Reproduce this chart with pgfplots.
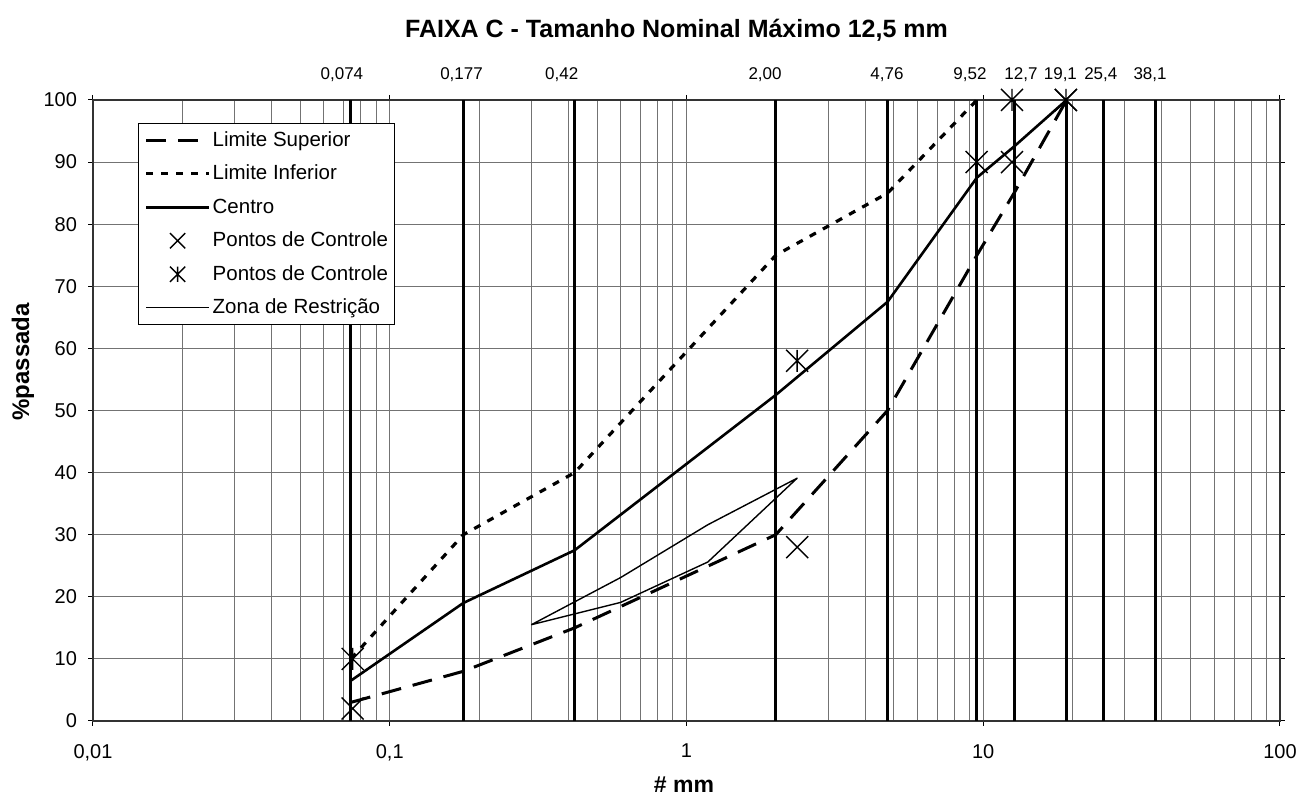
\documentclass[border=0pt]{standalone}
\usepackage{pgfplots}
\pgfplotsset{compat=1.18}
\usepackage{fontspec}
\setmainfont{Liberation Sans}
\pgfdeclareplotmark{xv}{%
 \pgfpathmoveto{\pgfqpoint{-\pgfplotmarksize}{-\pgfplotmarksize}}%
 \pgfpathlineto{\pgfqpoint{\pgfplotmarksize}{\pgfplotmarksize}}%
 \pgfpathmoveto{\pgfqpoint{-\pgfplotmarksize}{\pgfplotmarksize}}%
 \pgfpathlineto{\pgfqpoint{\pgfplotmarksize}{-\pgfplotmarksize}}%
 \pgfpathmoveto{\pgfqpoint{0pt}{-\pgfplotmarksize}}%
 \pgfpathlineto{\pgfqpoint{0pt}{\pgfplotmarksize}}%
 \pgfusepathqstroke}
\pgfdeclareplotmark{xx}{%
 \pgfpathmoveto{\pgfqpoint{-\pgfplotmarksize}{-\pgfplotmarksize}}%
 \pgfpathlineto{\pgfqpoint{\pgfplotmarksize}{\pgfplotmarksize}}%
 \pgfpathmoveto{\pgfqpoint{-\pgfplotmarksize}{\pgfplotmarksize}}%
 \pgfpathlineto{\pgfqpoint{\pgfplotmarksize}{-\pgfplotmarksize}}%
 \pgfusepathqstroke}

\begin{document}
\begin{tikzpicture}
\path[use as bounding box] (-46.5pt,-40pt) rectangle (604.5pt,360.5pt);
\begin{axis}[
  at={(0pt,0pt)}, anchor=south west,
  scale only axis, width=593.5pt, height=310.5pt,
  xmode=log, xmin=0.01, xmax=100, ymin=0, ymax=100,
  xtick={0.01,0.1,1,10,100}, xticklabels={{0,01},{0,1},1,10,100},
  minor xtick={0.02,0.03,0.04,0.05,0.06,0.07,0.08,0.09,0.2,0.3,0.4,0.5,0.6,0.7,0.8,0.9,2,3,4,5,6,7,8,9,20,30,40,50,60,70,80,90},
  ytick={0,10,...,100},
  xmajorgrids, xminorgrids, ymajorgrids,
  major grid style={black!55, line width=0.5pt},
  minor grid style={black!55, line width=0.5pt},
  extra x ticks={0.074,0.177,0.42,2,4.76,9.52,12.7,19.1,25.4,38.1},
  extra x tick labels={},
  extra x tick style={xmajorgrids, major grid style={black, line width=1.5pt}, major tick length=0pt},
  minor tick length=0pt, major tick length=2.5pt, tick align=outside,
  tick style={black, line width=0.5pt},
  axis line style={black!80, line width=0.6pt},
  /pgf/number format/assume math mode=true,
  ticklabel style={font=\fontsize{10}{12}\selectfont},
  xticklabel style={yshift=-5.5pt},
  yticklabel style={xshift=-2pt},
  clip=false,
  legend style={at={(0.0379,0.963)}, anchor=north west, draw=black, line width=0.5pt, fill=white,
    inner xsep=3pt, inner ysep=3.4pt, font=\fontsize{10.25}{12}\selectfont,
    row sep=6.75pt, column sep=1pt, nodes={inner sep=0pt, text height=8pt, text depth=2pt}},
  legend cell align=left,
  legend image code/.code={\path[draw=none,fill=none] (0pt,0pt) rectangle (31.5pt,0.1pt); \draw[#1] (0pt,0pt) -- (31.5pt,0pt);},
  markleg/.style={legend image code/.code={\path[draw=none,fill=none] (0pt,-4pt) rectangle (31.5pt,4pt); \draw[##1, mark size=3.8pt] plot[only marks] coordinates {(15.75pt,0pt)};}},
]
% Limite Superior
\addplot[black, line width=1.5pt, dash pattern=on 10pt off 6pt, line join=round] coordinates {
 (0.074,3) (0.177,8) (0.42,15) (2.00,30) (4.76,50) (9.52,75) (12.7,85) (19.1,100)};
\addlegendentry{Limite Superior}
% Limite Inferior
\addplot[black, line width=1.6pt, dash pattern=on 3.5pt off 4pt, line join=round] coordinates {
 (0.074,10) (0.177,30) (0.42,40) (2.00,75) (4.76,85) (9.52,100)};
\addlegendentry{Limite Inferior}
% Centro
\addplot[black, line width=1.3pt, line join=round] coordinates {
 (0.074,6.5) (0.177,19) (0.42,27.5) (2.00,52.5) (4.76,67.5) (9.52,87.5) (12.7,92.5) (19.1,100)};
\addlegendentry{Centro}
% Pontos de Controle (x)
\addplot[black, only marks, mark=xx, mark size=5.5pt, line width=0.7pt, markleg] coordinates {
 (0.075,2) (2.36,28) (12.5,90) (19,100)};
\addlegendentry{Pontos de Controle}
% Pontos de Controle (asterisk)
\addplot[black, only marks, mark=xv, mark size=5.5pt, line width=0.7pt, markleg] coordinates {
 (0.075,10) (2.36,58) (9.5,90) (12.5,100) (19,100)};
\addlegendentry{Pontos de Controle}
% Zona de Restricao
\addplot[black, line width=0.7pt, line join=round] coordinates {
 (0.3,15.5) (0.6,19.1) (1.18,25.6) (2.36,39.1) (1.18,31.6) (0.6,23.1) (0.3,15.5)};
\addlegendentry{Zona de Restrição}

\begin{scope}[every node/.style={font=\fontsize{8.5}{10}\selectfont}]
\node at (axis cs:0.069,100) [yshift=12.5pt] {0,074};
\node at (axis cs:0.1746,100) [yshift=12.5pt] {0,177};
\node at (axis cs:0.38,100) [yshift=12.5pt] {0,42};
\node at (axis cs:1.84,100) [yshift=12.5pt] {2,00};
\node at (axis cs:4.74,100) [yshift=12.5pt] {4,76};
\node at (axis cs:9.02,100) [yshift=12.5pt] {9,52};
\node at (axis cs:13.4,100) [yshift=12.5pt] {12,7};
\node at (axis cs:18.2,100) [yshift=12.5pt] {19,1};
\node at (axis cs:24.9,100) [yshift=12.5pt] {25,4};
\node at (axis cs:36.5,100) [yshift=12.5pt] {38,1};
\end{scope}
\end{axis}
\node[font=\bfseries\fontsize{12.5}{15}\selectfont] at (291.75pt,345.5pt) {FAIXA C - Tamanho Nominal Máximo 12,5 mm};
\node[font=\bfseries\fontsize{11.5}{13}\selectfont] at (295.5pt,-32pt) {\# mm};
\node[font=\bfseries\fontsize{12}{14}\selectfont, rotate=90] at (-35pt,179.5pt) {\%passada};
\end{tikzpicture}
\end{document}
